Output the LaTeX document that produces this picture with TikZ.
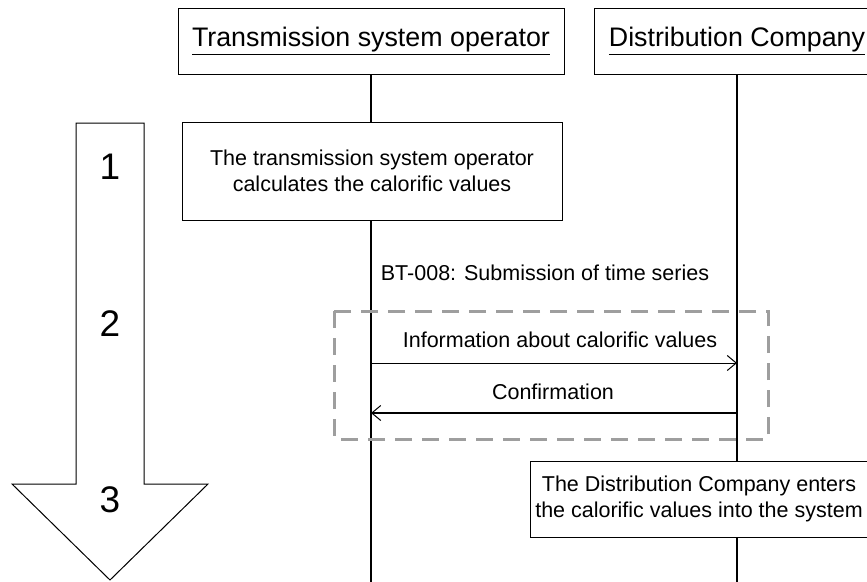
\documentclass[tikz,border=0pt]{standalone}
\usepackage{fontspec}
\setmainfont{Liberation Sans}
\usetikzlibrary{arrows.meta}
\tikzset{
  header/.style={draw, line width=1pt, fill=white, inner sep=0pt, font=\fontsize{26.8}{30}\selectfont},
  stepbox/.style={draw, line width=1pt, fill=white, inner sep=0pt, align=center, font=\fontsize{21.5}{26}\selectfont},
  lifeline/.style={line width=1.5pt},
  msg/.style={line width=1pt, -{Straight Barb[length=9pt,width=15pt,line width=1pt]}},
  lbl/.style={font=\fontsize{21.5}{26}\selectfont, inner sep=0pt},
  num/.style={font=\fontsize{37}{40}\selectfont, inner sep=0pt},
  grp/.style={draw=black!38, line width=3pt, dash pattern=on 17pt off 10pt}
}
\begin{document}
\begin{tikzpicture}[x=1pt,y=-1pt]
\useasboundingbox (0,0) rectangle (867,581);
\clip (0,0) rectangle (867,581);
% headers
\node[header, minimum width=386pt, minimum height=66pt] (tso) at (371,41) {\underline{Transmission system operator}};
\node[header, minimum width=286pt, minimum height=66pt] (dc) at (737,41) {\underline{Distribution Company}};
\coordinate (tsoend) at (371,590);
\coordinate (dcend) at (737,590);
\draw[lifeline] (tso.south) -- (tsoend);
\draw[lifeline] (dc.south) -- (dcend);
% big process arrow
\path[draw, line width=1pt, fill=white] (76,123) -- (144,123) -- (144,484) -- (208,484) -- (110,580) -- (12,484) -- (76,484) -- cycle;
\node[num] (n1) at (110,167) {1};
\node[num] (n2) at (110,324) {2};
\node[num] (n3) at (110,500) {3};
% step boxes
\node[stepbox, minimum width=380pt, minimum height=98pt] (s1) at (372,171) {The transmission system operator\\calculates the calorific values};
\node[stepbox, minimum width=338pt, minimum height=76pt] (s3) at (699,499) {The Distribution Company enters\\the calorific values into the system};
% group
\node[lbl] (bt) at (545,273) {BT-008: Submission of time series};
\draw[grp] (334,311) rectangle (768,439);
% messages
\coordinate (m1a) at (371,363);
\coordinate (m1b) at (737,363);
\coordinate (m2a) at (737,413);
\coordinate (m2b) at (371,413);
\draw[msg] (m1a) -- (m1b);
\draw[msg, line width=2pt] (m2a) -- (m2b);
\node[lbl] (l1) at (560,340) {Information about calorific values};
\node[lbl] (l2) at (553,392) {Confirmation};
\end{tikzpicture}
\end{document}
